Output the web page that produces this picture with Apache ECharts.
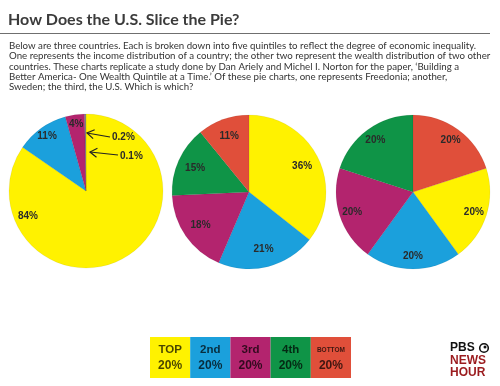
<!DOCTYPE html>
<html><head><meta charset="utf-8">
<script src="https://cdn.jsdelivr.net/npm/echarts@6/dist/echarts.min.js"></script>
<style>html,body{margin:0;padding:0;background:#fff}#c{width:500px;height:386px}</style>
</head><body><div id="c"></div>
<script>
// ---- data ----
const quintiles = ['TOP', '2nd', '3rd', '4th', 'BOTTOM'];
const quintileShare = ['20%', '20%', '20%', '20%', '20%'];
const colors = ['#fff200', '#1ba0dc', '#b3246e', '#0f9447', '#e04f3a'];
const pieA = [84, 11, 4, 0.2, 0.1];
const pieB = [36, 21, 18, 15, 11];
const pieC = [20, 20, 20, 20, 20];
const titleText = 'How Does the U.S. Slice the Pie?';
const introLines = [
  'Below are three countries. Each is broken down into five quintiles to reflect the degree of economic inequality.',
  'One represents the income distribution of a country; the other two represent the wealth distribution of two other',
  'countries. These charts replicate a study done by Dan Ariely and Michel I. Norton for the paper, \u2018Building a',
  'Better America- One Wealth Quintile at a Time.\u2019 Of these pie charts, one represents Freedonia; another,',
  'Sweden; the third, the U.S. Which is which?'
];

// ---- layout/style ----
const R = 77;
const pies = [
  { vals: pieA, center: [86, 191], start: 90, labelR0: 51 },
  { vals: pieB, center: [249, 192], start: 90, labelR0: 35 },
  { vals: pieC, center: [413, 192], start: 18, labelR0: 45 }
];
const tinyColor = '#707070';
const labelFont = { fontFamily: 'Liberation Sans', fontWeight: 'bold', fontSize: 10, color: '#2a2a2a' };

const series = [];
pies.forEach((p, pi) => {
  const data = p.vals.map((v, i) => ({
    name: quintiles[i], value: v,
    itemStyle: { color: (pi === 0 && v < 1) ? tinyColor : colors[i] }
  }));
  series.push({
    type: 'pie', center: p.center, radius: [0, R], startAngle: p.start, clockwise: true,
    silent: true, label: { show: false }, labelLine: { show: false },
    itemStyle: { borderColor: 'rgba(0,0,0,0.12)', borderWidth: 0.5 },
    data: data, animation: false
  });
  series.push({
    type: 'pie', center: p.center, radius: [p.labelR0, R], startAngle: p.start, clockwise: true,
    silent: true, avoidLabelOverlap: false, z: 5,
    itemStyle: { color: 'rgba(0,0,0,0)', borderWidth: 0 },
    label: Object.assign({ show: true, position: 'inside', formatter: '{c}%' }, labelFont),
    labelLine: { show: false },
    labelLayout: pi === 0 ? function (params) {
      if (params.dataIndex === 0) return { x: 28, y: 216, align: 'center', verticalAlign: 'middle' };
      return {};
    } : undefined,
    data: p.vals.map((v, i) => ({ name: quintiles[i], value: v, label: { show: !(pi === 0 && v < 1) } })),
    animation: false
  });
});

const graphic = [];
graphic.push({ type: 'text', left: 8, top: 12, style: { text: titleText, font: 'bold 16px Lato', fill: '#3b3b3b' } });
graphic.push({ type: 'line', shape: { x1: 0, y1: 33.5, x2: 490, y2: 33.5 }, style: { stroke: '#6f6f6f', lineWidth: 1 } });
introLines.forEach((t, i) => {
  graphic.push({ type: 'text', x: 9, y: 46 + i * 10.3, style: { text: t, font: '9.7px Lato', fill: '#333', verticalAlign: 'middle' } });
});
// arrows for tiny slices of pie A
const arrows = [
  { from: [110, 137], to: [87, 133], lx: 112, ly: 137, v: pieA[3] },
  { from: [118, 155], to: [90, 152], lx: 120, ly: 156, v: pieA[4] }
];
arrows.forEach(a => {
  const dx = a.from[0] - a.to[0], dy = a.from[1] - a.to[1];
  const L = Math.hypot(dx, dy), ux = dx / L, uy = dy / L;
  const h = 7, w = 4.5;
  const p1 = [a.to[0] + ux * h - uy * w, a.to[1] + uy * h + ux * w];
  const p2 = [a.to[0] + ux * h + uy * w, a.to[1] + uy * h - ux * w];
  graphic.push({ type: 'line', z: 100, shape: { x1: a.from[0], y1: a.from[1], x2: a.to[0], y2: a.to[1] }, style: { stroke: '#222', lineWidth: 1.2 } });
  graphic.push({ type: 'polyline', z: 100, shape: { points: [p1, a.to, p2] }, style: { stroke: '#222', lineWidth: 1.2, fill: null } });
  graphic.push({ type: 'text', z: 100, x: a.lx, y: a.ly, style: { text: a.v + '%', font: 'bold 10px "Liberation Sans"', fill: '#2a2a2a', verticalAlign: 'middle' } });
});
// legend boxes
const bx = 150, by = 337, bw = 40.2, bh = 41;
quintiles.forEach((q, i) => {
  const x = bx + i * bw;
  graphic.push({ type: 'rect', shape: { x: x, y: by, width: bw, height: bh }, style: { fill: colors[i] } });
  graphic.push({ type: 'text', x: x + bw / 2, y: by + 13, style: { text: q, font: (q === 'BOTTOM' ? 'bold 6.5px' : 'bold 11.5px') + ' "Liberation Sans"', fill: 'rgba(0,0,0,0.72)', align: 'center', verticalAlign: 'middle' } });
  graphic.push({ type: 'text', x: x + bw / 2, y: by + 29, style: { text: quintileShare[i], font: 'bold 12px "Liberation Sans"', fill: 'rgba(0,0,0,0.72)', align: 'center', verticalAlign: 'middle' } });
});
// PBS NewsHour logo
graphic.push({ type: 'text', x: 450, y: 348, style: { text: 'PBS', font: 'bold 12px "Liberation Sans"', fill: '#111', verticalAlign: 'middle' } });
graphic.push({ type: 'circle', shape: { cx: 484, cy: 348, r: 4.3 }, style: { fill: null, stroke: '#111', lineWidth: 1.6 } });
graphic.push({ type: 'circle', shape: { cx: 485, cy: 347, r: 1.5 }, style: { fill: '#111' } });
graphic.push({ type: 'text', x: 450, y: 360.5, style: { text: 'NEWS', font: 'bold 12px "Liberation Sans"', fill: '#9b1b1e', verticalAlign: 'middle' } });
graphic.push({ type: 'text', x: 450, y: 372.5, style: { text: 'HOUR', font: 'bold 12px "Liberation Sans"', fill: '#9b1b1e', verticalAlign: 'middle' } });

const chart = echarts.init(document.getElementById('c'), null, { renderer: 'canvas' });
chart.setOption({ backgroundColor: '#fff', animation: false, series: series, graphic: graphic });
</script></body></html>
